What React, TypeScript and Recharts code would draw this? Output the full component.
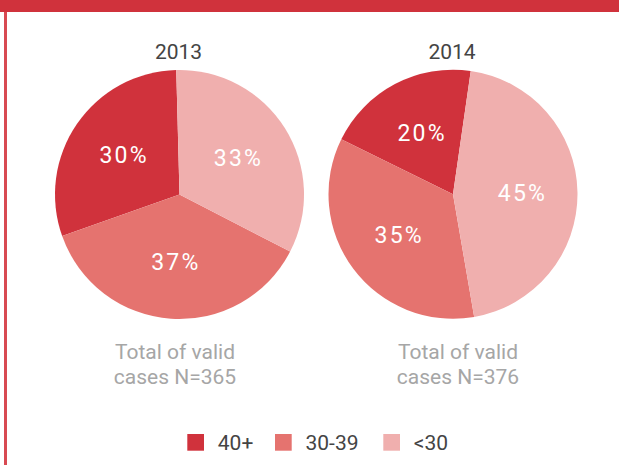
import { PieChart, Pie, Cell } from 'recharts'

const ageGroups = ['40+', '30-39', '<30']
const colors = ['#d0323c', '#e5736f', '#f0afae']

const years = ['2013', '2014']
const shares2013 = [30, 37, 33]
const shares2014 = [20, 35, 45]
const validCases = [365, 376]

const W = 619
const H = 465
const R = 124.5

const pies = [
  { year: years[0], values: shares2013, n: validCases[0], cx: 179.5, cy: 194.5, start: 91.5, noteX: 175 },
  { year: years[1], values: shares2014, n: validCases[1], cx: 453, cy: 194.2, start: 81.8, noteX: 458 },
]

const font = 'Roboto, "Noto Sans", sans-serif'

const RADIAN = Math.PI / 180

function SliceLabel(props: any) {
  const { cx, cy, midAngle, outerRadius, value } = props
  const r = outerRadius * 0.55
  const x = cx + r * Math.cos(-midAngle * RADIAN)
  const y = cy + r * Math.sin(-midAngle * RADIAN)
  return (
    <text
      x={x + 1}
      y={y}
      fill="#fff"
      textAnchor="middle"
      dominantBaseline="central"
      fontFamily={font}
      fontSize={23}
      letterSpacing={2.2}
    >
      {value}%
    </text>
  )
}

export default function App() {
  return (
    <div style={{ position: 'absolute', left: 0, top: 0, width: W, height: H, background: '#fff', overflow: 'hidden' }}>
      {/* frame: top bar and left rule */}
      <div style={{ position: 'absolute', left: 0, top: 0, width: W, height: 12, background: '#d0323c' }} />
      <div style={{ position: 'absolute', left: 4, top: 12, width: 2.5, height: H - 12, background: '#d84a52' }} />

      <div style={{ position: 'absolute', left: 0, top: 0 }}>
        <PieChart width={W} height={H} margin={{ top: 0, right: 0, bottom: 0, left: 0 }}>
          {pies.map((p) => (
            <Pie
              key={p.year}
              data={p.values.map((v, i) => ({ name: ageGroups[i], value: v }))}
              dataKey="value"
              nameKey="name"
              cx={p.cx}
              cy={p.cy}
              innerRadius={0}
              outerRadius={R}
              startAngle={p.start}
              endAngle={p.start + 360}
              stroke="none"
              label={SliceLabel}
              labelLine={false}
              isAnimationActive={false}
            >
              {p.values.map((_, i) => (
                <Cell key={`cell-${p.year}-${i}`} fill={colors[i]} />
              ))}
            </Pie>
          ))}
        </PieChart>
      </div>

      <svg width={W} height={H} style={{ position: 'absolute', left: 0, top: 0, pointerEvents: 'none' }}>
        {pies.map((p) => (
          <g key={`txt-${p.year}`} fontFamily={font} fontSize={21}>
            <text x={p.cx - 1} y={59} textAnchor="middle" fill="#444">{p.year}</text>
            <text x={p.noteX} y={359} textAnchor="middle" fill="#a6a6a6">Total of valid</text>
            <text x={p.noteX} y={384} textAnchor="middle" fill="#a6a6a6">cases N={p.n}</text>
          </g>
        ))}
        {/* legend */}
        <g fontFamily={font} fontSize={21} fill="#444">
          {ageGroups.map((g, i) => {
            const xs = [187.3, 275, 383.3]
            return (
              <g key={g}>
                <rect x={xs[i]} y={434} width={16.7} height={16.7} fill={colors[i]} />
                <text x={xs[i] + 30.5} y={450}>{g}</text>
              </g>
            )
          })}
        </g>
      </svg>
    </div>
  )
}
